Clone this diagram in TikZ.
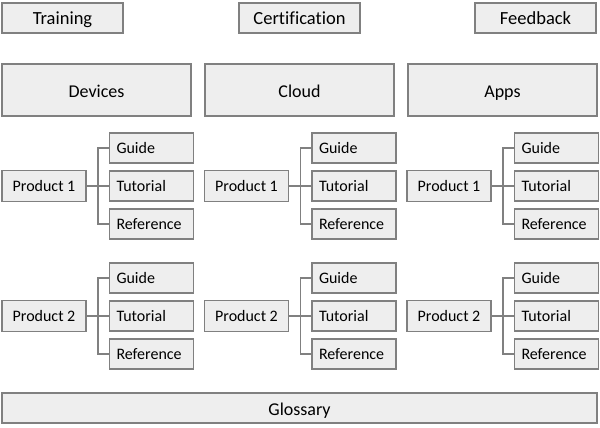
\documentclass[tikz,border=0pt]{standalone}
\usepackage{fontspec}
\setmainfont{Carlito}[Ligatures=NoCommon]
\definecolor{boxfill}{RGB}{238,238,238}
\definecolor{boxline}{RGB}{128,128,128}
\begin{document}
\begin{tikzpicture}[x=1pt,y=-1pt,
  base/.style={draw=boxline,fill=boxfill,line width=1.1pt,inner sep=0pt,outer sep=0pt,anchor=center,text depth=0pt},
  topbox/.style={base,minimum width=121pt,minimum height=30pt,font=\fontsize{18.5}{20}\selectfont,text height=14pt},
  bigbox/.style={base,minimum width=189pt,minimum height=52pt,font=\fontsize{18}{20}\selectfont,text height=14pt},
  prodbox/.style={base,minimum width=84pt,minimum height=31pt,font=\fontsize{16}{18}\selectfont,text height=11.5pt},
  leafbox/.style={base,minimum width=84pt,minimum height=30pt,font=\fontsize{16}{18}\selectfont,text height=11.5pt,text width=70pt,align=left},
  wire/.style={draw=boxline,line width=1.1pt}]
\useasboundingbox (0,0) rectangle (600,428);
\node[topbox] (training) at (62.5,18) {Training};
\node[topbox] (cert) at (299.5,18) {Certification};
\node[topbox] (feedback) at (535.5,18) {Feedback};
\node[bigbox] (devices) at (96.5,90) {Devices};
\node[bigbox] (cloud) at (299.5,90) {Cloud};
\node[bigbox] (apps) at (502.5,90) {Apps};
\foreach \c/\x in {a/2,b/204.5,c/407}{
  \foreach \r/\y/\n in {1/0/1,2/130/2}{
    \node[prodbox] (p\r\c) at (\x+42,186+\y) {Product \n};
    \node[leafbox] (g\r\c) at (\x+149.5,148+\y) {Guide};
    \node[leafbox] (t\r\c) at (\x+149.5,186+\y) {Tutorial};
    \node[leafbox] (f\r\c) at (\x+149.5,224+\y) {Reference};
    \coordinate (j\r\c) at (\x+96,186+\y);
    \draw[wire] (p\r\c.east) -- (j\r\c) -- (t\r\c.west);
    \draw[wire] (g\r\c.west) -| (j\r\c) |- (f\r\c.west);
  }
}
\node[base,minimum width=595pt,minimum height=30pt,font=\fontsize{18}{20}\selectfont,text height=14pt] (glossary) at (299.5,408) {Glossary};
\end{tikzpicture}
\end{document}
